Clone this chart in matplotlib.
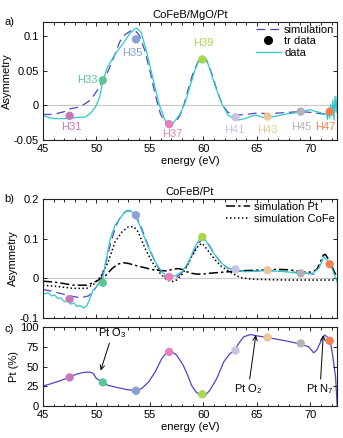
import matplotlib
matplotlib.use("Agg")
import matplotlib.pyplot as plt
from matplotlib.ticker import MultipleLocator
from matplotlib.lines import Line2D

plt.rcParams['font.family'] = ['Liberation Sans', 'DejaVu Sans']
plt.rcParams['font.size'] = 8
plt.rcParams['mathtext.fontset'] = 'custom'
plt.rcParams['mathtext.rm'] = 'Liberation Sans'

# ── data ─────────────────────────────────────────────────────────────────────
harm_lbl = ["H31", "H33", "H35", "H37", "H39", "H41", "H43", "H45", "H47"]
harm_e = [47.5, 50.6, 53.7, 56.8, 59.9, 63.0, 66.0, 69.1, 71.8]
harm_col = ["#c678bd", "#5cc49a", "#8c9fd4", "#ea7fbf", "#a6d84c",
            "#c9c3e3", "#ebc797", "#b3b3b3", "#f5804f"]

a_tr = [-0.015, 0.036, 0.095, -0.027, 0.066, -0.017, -0.016, -0.009, -0.009]
b_tr = [-0.053, -0.012, 0.159, 0.003, 0.104, 0.022, 0.020, 0.012, 0.035]
c_tr = [36.3, 30.0, 19.4, 68.7, 14.8, 70.5, 87.0, 79.4, 82.7]

# a) CoFeB/MgO/Pt
a_data_e = [44.9, 45.5, 46.0, 46.6, 47.2, 47.8, 48.4, 48.9, 49.4, 49.9, 50.3,
            50.6, 51.0, 51.6, 52.1, 52.6, 53.1, 53.5, 53.8, 54.2, 54.7, 55.3,
            55.9, 56.4, 56.8, 57.2, 57.8, 58.3, 58.7, 59.2, 59.6, 59.9, 60.2,
            60.5, 61.1, 61.7, 62.3, 62.8, 63.3, 63.9, 64.4, 64.9, 65.5, 66.0,
            66.5, 67.0, 67.5, 68.0, 68.5, 69.0, 69.5, 70.0, 70.5, 70.9, 71.2,
            71.5, 71.6, 71.7, 71.8, 71.9, 72.0, 72.1, 72.2, 72.3, 72.4, 72.5]
a_data_v = [-0.014, -0.017, -0.019, -0.019, -0.019, -0.018, -0.017, -0.017,
            -0.012, -0.003, 0.012, 0.034, 0.054, 0.070, 0.081, 0.091, 0.103,
            0.109, 0.111, 0.104, 0.077, 0.037, 0.0, -0.021, -0.026, -0.025,
            -0.013, 0.004, 0.025, 0.050, 0.066, 0.071, 0.068, 0.057, 0.028,
            0.003, -0.014, -0.019, -0.021, -0.019, -0.016, -0.014, -0.017,
            -0.018, -0.016, -0.015, -0.013, -0.012, -0.011, -0.008, -0.008,
            -0.006, -0.009, -0.010, -0.013, -0.012, -0.020, -0.004, -0.018,
            0.001, -0.015, 0.008, -0.021, 0.013, -0.010, 0.012]

a_sim_e = [45, 46, 47, 47.5, 48.2, 48.8, 49.4, 50.2, 51.0, 51.6, 52.2, 52.7,
           53.2, 53.6, 54.0, 54.5, 55.0, 55.5, 56.0, 56.5, 57.0, 57.4, 57.8,
           58.2, 58.6, 59.0, 59.5, 59.9, 60.3, 60.8, 61.3, 61.8, 62.3, 63.0,
           64.0, 65.0, 66.0, 67.0, 68.0, 69.0, 70.0, 71.0, 72.0]
a_sim_v = [-0.013, -0.013, -0.009, -0.005, -0.003, 0.001, 0.007, 0.024, 0.046,
           0.068, 0.092, 0.102, 0.107, 0.108, 0.101, 0.080, 0.050, 0.015,
           -0.013, -0.025, -0.026, -0.024, -0.015, 0.002, 0.024, 0.045, 0.063,
           0.070, 0.065, 0.045, 0.020, 0.0, -0.010, -0.014, -0.013, -0.011,
           -0.012, -0.011, -0.010, -0.009, -0.010, -0.012, -0.013]

# b) CoFeB/Pt
b_data_e = [44.9, 45.2, 45.5, 45.8, 46.1, 46.4, 46.7, 47.0, 47.3, 47.6, 47.9,
            48.2, 48.5, 48.8, 49.1, 49.4, 49.7, 50.0, 50.3, 50.6, 50.9, 51.3,
            51.75, 52.2, 52.7, 53.0, 53.5, 53.9, 54.4, 54.9, 55.5, 56.1, 56.7,
            57.4, 58.0, 58.6, 59.1, 59.6, 60.0, 60.5, 61.1, 61.7, 62.35, 63.0,
            63.9, 65.2, 66.4, 67.7, 68.9, 70.2, 70.8, 71.25, 71.55, 71.9,
            72.35, 72.5]
b_data_v = [-0.035, -0.040, -0.037, -0.045, -0.043, -0.052, -0.050, -0.060,
            -0.057, -0.066, -0.063, -0.072, -0.070, -0.076, -0.071, -0.051,
            -0.030, -0.022, -0.012, 0.000, 0.045, 0.100, 0.134, 0.151, 0.168,
            0.172, 0.164, 0.143, 0.109, 0.075, 0.041, 0.016, 0.003, 0.006,
            0.016, 0.040, 0.072, 0.097, 0.104, 0.083, 0.058, 0.037, 0.025,
            0.020, 0.016, 0.018, 0.018, 0.016, 0.012, 0.012, 0.025, 0.054,
            0.045, 0.033, 0.000, -0.010]

b_sim_e = [45, 45.8, 46.5, 47.5, 48.5, 49.3, 49.8, 50.3, 50.8, 51.3, 51.8,
           52.3, 52.8, 53.2, 53.7, 54.2, 54.7, 55.3, 55.9, 56.5, 57.0, 57.5,
           58.0, 58.5, 59.0, 59.5, 60.0, 60.5, 61.0, 61.6, 62.3, 63.0, 64.0,
           65.0, 66.0, 67.0, 68.0, 69.0, 70.0, 70.6]
b_sim_v = [-0.029, -0.033, -0.038, -0.045, -0.050, -0.045, -0.030, -0.010,
           0.030, 0.085, 0.130, 0.158, 0.170, 0.170, 0.158, 0.128, 0.092,
           0.052, 0.020, 0.000, -0.003, 0.002, 0.014, 0.033, 0.060, 0.088,
           0.100, 0.085, 0.062, 0.040, 0.025, 0.020, 0.017, 0.018, 0.019,
           0.018, 0.016, 0.013, 0.011, 0.009]

b_pt_e = [45, 46, 47, 47.8, 48.5, 49.1, 49.7, 50.2, 50.6, 51.0, 51.5, 52.0,
          52.5, 53.0, 53.5, 54.1, 54.7, 55.3, 56.0, 56.6, 57.1, 57.6, 58.0,
          58.45, 58.9, 59.4, 59.9, 60.5, 61.4, 62.4, 63.0, 64.0, 65.0, 66.0,
          67.0, 68.0, 69.0, 69.6, 70.2, 70.6, 70.9, 71.2, 71.4, 71.7, 72.0,
          72.3, 72.5]
b_pt_v = [-0.008, -0.010, -0.014, -0.018, -0.018, -0.018, -0.012, -0.005,
          0.0, 0.010, 0.025, 0.035, 0.039, 0.037, 0.033, 0.029, 0.025, 0.021,
          0.019, 0.018, 0.022, 0.024, 0.022, 0.016, 0.012, 0.010, 0.010,
          0.012, 0.014, 0.016, 0.018, 0.019, 0.020, 0.021, 0.022, 0.021,
          0.017, 0.015, 0.015, 0.022, 0.038, 0.058, 0.060, 0.047, 0.030,
          0.012, 0.003]

b_cofe_e = [45, 46.6, 47.8, 49.1, 49.9, 50.5, 51.1, 51.75, 52.4, 53.0, 53.5,
            53.9, 54.55, 55.2, 55.95, 56.6, 57.05, 57.5, 58.1, 58.9, 59.55,
            59.9, 60.5, 61.1, 61.7, 62.7, 63.45, 64.6, 66, 68, 70, 72.5]
b_cofe_v = [-0.018, -0.022, -0.026, -0.026, -0.013, 0.008, 0.041, 0.092,
            0.117, 0.130, 0.130, 0.117, 0.075, 0.041, 0.012, -0.005, -0.009,
            -0.005, 0.012, 0.054, 0.083, 0.088, 0.067, 0.046, 0.029, 0.012,
            0.001, -0.003, -0.004, -0.005, -0.005, -0.005]

# c) Pt fraction
c_e = [44.7, 45.65, 46.6, 47.4, 48.15, 48.8, 49.4, 49.7, 50.0, 50.6, 51.0,
       51.9, 52.8, 53.7, 54.25, 54.9, 55.5, 56.1, 56.6, 57.05, 57.5, 58.1,
       58.5, 58.9, 59.3, 59.7, 60.2, 60.6, 61.25, 61.9, 62.5, 62.9, 63.3,
       63.75, 64.4, 65.0, 65.95, 67.0, 67.95, 69.1, 69.85, 70.3, 70.6, 71.1,
       71.35, 71.7, 71.9, 72.1, 72.35, 72.5, 72.6]
c_v = [24.4, 27.8, 32.0, 36.0, 40.5, 42.6, 43.0, 41.4, 35.0, 30.0, 26.6,
       23.6, 21.0, 19.4, 22.4, 30.8, 43.4, 60.0, 68.5, 68.7, 64.6, 52.0,
       40.0, 26.0, 18.0, 14.0, 14.0, 20.0, 35.0, 56.0, 66.7, 70.0, 79.4,
       87.7, 90.7, 89.0, 87.0, 84.4, 82.0, 78.5, 75.0, 67.5, 71.0, 85.7,
       90.0, 86.0, 79.0, 62.0, 37.0, 0.0, -20.0]

CYAN = "#2ecbcb"
SIM = "#5243c6"
FS = 8


def style(ax):
    ax.set_xlim(45, 72.5)
    ax.xaxis.set_major_locator(MultipleLocator(5))
    ax.xaxis.set_minor_locator(MultipleLocator(1))
    ax.tick_params(which="both", direction="in", top=True, right=True,
                   labelsize=FS, width=0.6)
    ax.tick_params(axis="x", pad=3)
    ax.tick_params(axis="y", pad=3)
    ax.tick_params(which="major", length=3)
    ax.tick_params(which="minor", length=1.8)
    for s in ax.spines.values():
        s.set_linewidth(0.8)
        s.set_color("#222222")


fig = plt.figure(figsize=(3.43, 4.38), dpi=100)
ax_a = fig.add_axes([0.125, 0.680, 0.858, 0.270])
ax_b = fig.add_axes([0.125, 0.275, 0.858, 0.2705])
ax_c = fig.add_axes([0.125, 0.073, 0.858, 0.180])

# ── a) ───────────────────────────────────────────────────────────────────────
ax_a.axhline(0, color="#c8c8c8", lw=0.8, zorder=0)
ax_a.plot(a_data_e, a_data_v, color=CYAN, lw=0.9, zorder=2)
ax_a.plot(a_sim_e, a_sim_v, color=SIM, lw=0.9, dashes=(7, 4), zorder=1)
ax_a.scatter(harm_e, a_tr, s=36, c=harm_col, zorder=3, linewidths=0)
lbl_pos = [(47.7, -0.031), (49.2, 0.036), (53.4, 0.076), (57.1, -0.041),
           (59.95, 0.089), (62.9, -0.035), (66.0, -0.035), (69.1, -0.031),
           (71.4, -0.031)]
for t, (x, y), c in zip(harm_lbl, lbl_pos, harm_col):
    ax_a.text(x, y, t, color=c, ha="center", va="center", fontsize=FS)
ax_a.set_ylim(-0.05, 0.12)
ax_a.set_yticks([-0.05, 0, 0.05, 0.1])
ax_a.set_yticklabels(["-0.05", "0", "0.05", "0.1"])
style(ax_a)
ax_a.set_ylabel("Asymmetry", labelpad=1)
ax_a.set_xlabel("energy (eV)", labelpad=1)
ax_a.set_title("CoFeB/MgO/Pt", fontsize=FS, pad=3)
hd = [Line2D([], [], color=SIM, lw=0.9, dashes=(7, 4)),
      Line2D([], [], color="black", marker="o", ls="none", ms=5.5),
      Line2D([], [], color=CYAN, lw=0.9)]
ax_a.legend(hd, ["simulation", "tr data", "data"], loc="upper right",
            frameon=False, fontsize=FS, handlelength=2.2, handletextpad=0.3,
            labelspacing=0.15, borderaxespad=0.15, borderpad=0.1)

# ── b) ───────────────────────────────────────────────────────────────────────
ax_b.axhline(0, color="#c8c8c8", lw=0.8, zorder=0)
ax_b.plot(b_sim_e, b_sim_v, color=SIM, lw=0.9, dashes=(7, 4), zorder=1)
ax_b.plot(b_cofe_e, b_cofe_v, color="black", lw=1.1, ls=(0, (1, 1.6)), zorder=1)
ax_b.plot(b_pt_e, b_pt_v, color="black", lw=1.1, ls=(0, (6, 2, 1.5, 2)), zorder=1)
ax_b.plot(b_data_e, b_data_v, color=CYAN, lw=0.9, zorder=2)
ax_b.scatter(harm_e, b_tr, s=36, c=harm_col, zorder=3, linewidths=0)
ax_b.set_ylim(-0.1, 0.2)
ax_b.set_yticks([-0.1, 0, 0.1, 0.2])
ax_b.set_yticklabels(["-0.1", "0", "0.1", "0.2"])
style(ax_b)
ax_b.tick_params(labelbottom=False)
ax_b.set_ylabel("Asymmetry", labelpad=1)
ax_b.set_title("CoFeB/Pt", fontsize=FS, pad=3)
hd = [Line2D([], [], color="black", lw=1.1, ls=(0, (6, 2, 1.5, 2))),
      Line2D([], [], color="black", lw=1.1, ls=(0, (1, 1.6)))]
ax_b.legend(hd, ["simulation Pt", "simulation CoFe"], loc="upper right",
            frameon=False, fontsize=FS, handlelength=2.2, handletextpad=0.3,
            labelspacing=0.15, borderaxespad=0.15, borderpad=0.1)

# ── c) ───────────────────────────────────────────────────────────────────────
ax_c.plot(c_e, c_v, color=SIM, lw=0.9, zorder=1)
ax_c.scatter(harm_e, c_tr, s=36, c=harm_col, zorder=3, linewidths=0)
ax_c.set_ylim(0, 100)
ax_c.set_yticks([0, 25, 50, 75, 100])
style(ax_c)
ax_c.set_ylabel("Pt (%)", labelpad=1)
ax_c.set_xlabel("energy (eV)", labelpad=1)
arw = dict(arrowstyle="->", color="black", lw=0.7, shrinkA=0, shrinkB=0)
ax_c.annotate(r"Pt O$_3$", xy=(50.4, 45), xytext=(51.5, 92),
              ha="center", va="center", fontsize=FS, arrowprops=arw)
ax_c.annotate(r"Pt O$_2$", xy=(64.9, 90), xytext=(64.2, 22),
              ha="center", va="center", fontsize=FS, arrowprops=arw)
ax_c.annotate(r"Pt N$_7$", xy=(71.2, 90), xytext=(70.9, 22),
              ha="center", va="center", fontsize=FS, arrowprops=arw)

fig.text(0.012, 0.950, "a)", fontsize=FS, va="center")
fig.text(0.012, 0.545, "b)", fontsize=FS, va="center")
fig.text(0.012, 0.250, "c)", fontsize=FS, va="center")

fig.savefig("out.png", dpi=100)
